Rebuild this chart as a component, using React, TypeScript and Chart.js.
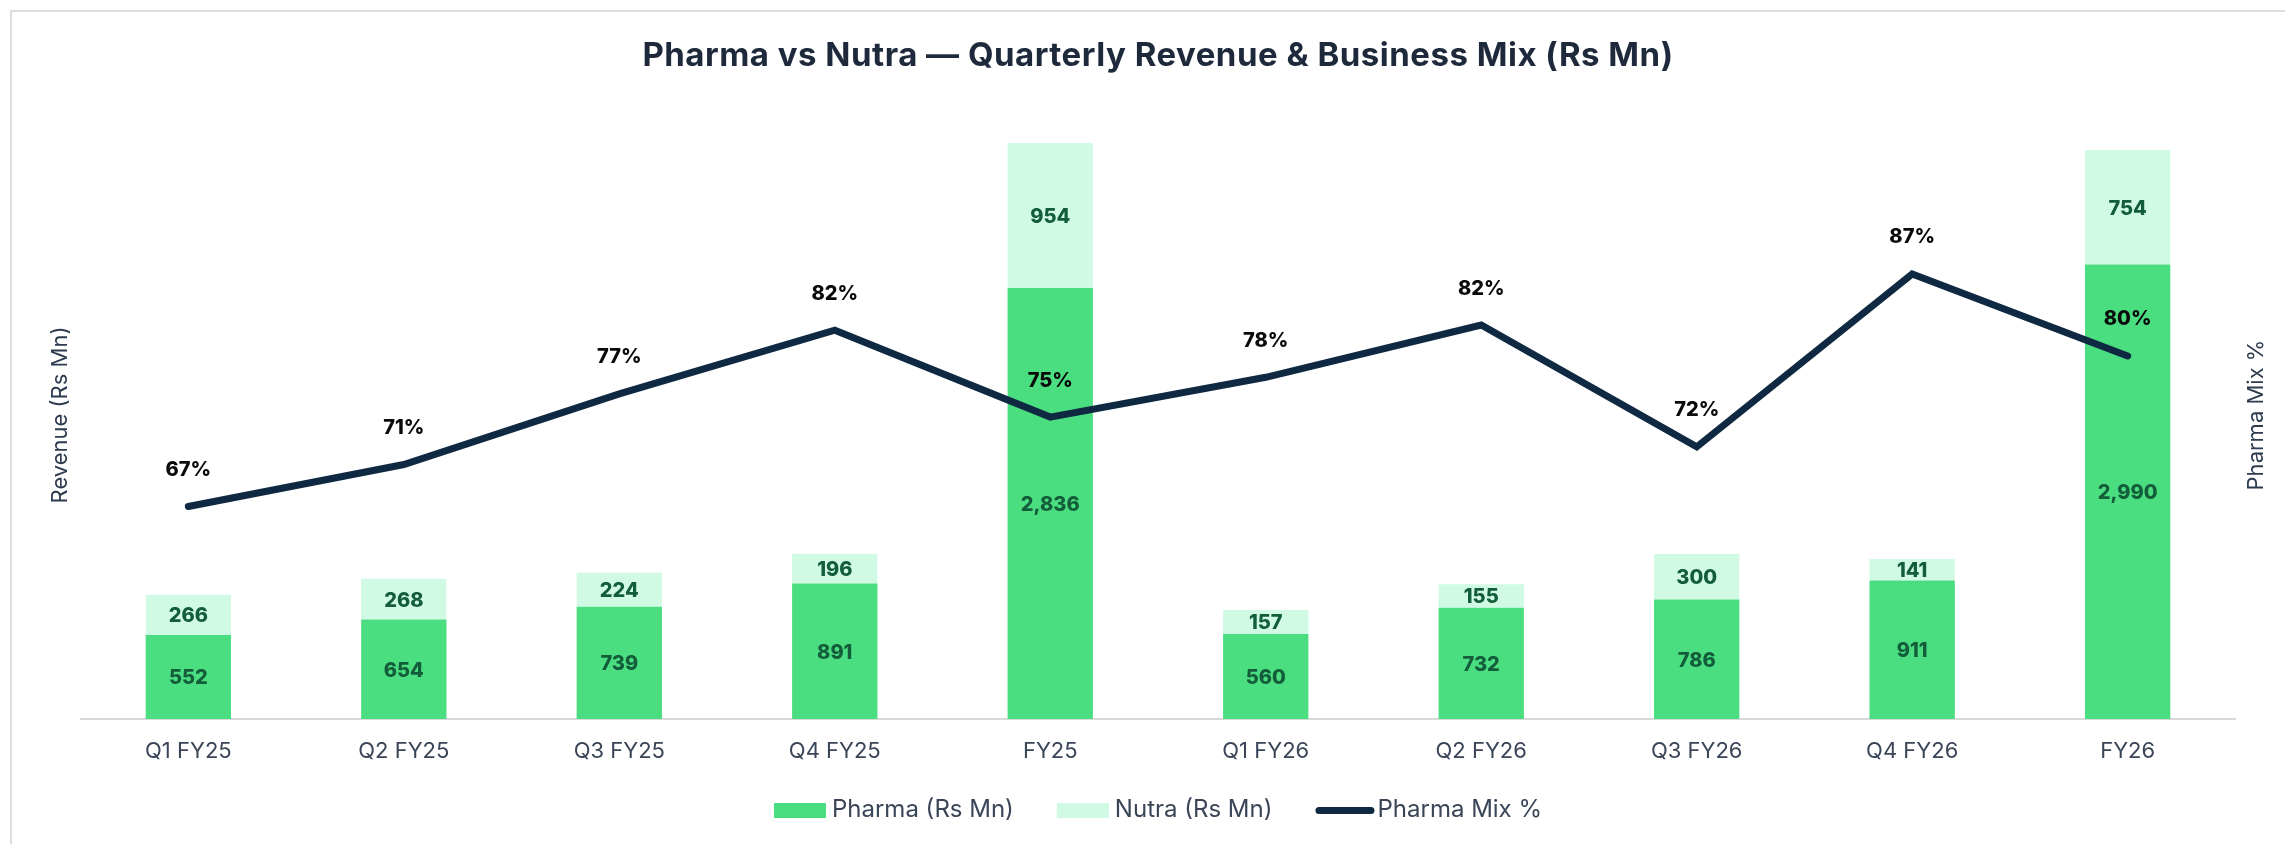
import React, { useEffect, useRef } from 'react';
import { Chart, registerables } from 'chart.js';

Chart.register(...registerables);

// ---------- data ----------
const categories = ['Q1 FY25', 'Q2 FY25', 'Q3 FY25', 'Q4 FY25', 'FY25', 'Q1 FY26', 'Q2 FY26', 'Q3 FY26', 'Q4 FY26', 'FY26'];
const pharmaRevenue = [552, 654, 739, 891, 2836, 560, 732, 786, 911, 2990];
const nutraRevenue = [266, 268, 224, 196, 954, 157, 155, 300, 141, 754];
const pharmaMixPct = [67.48, 70.93, 76.74, 81.97, 74.83, 78.1, 82.4, 72.38, 86.6, 79.86];
const revenueRange = [0, 4000];
const mixRange = [50, 100];

const TITLE = 'Pharma vs Nutra \u2014 Quarterly Revenue & Business Mix (Rs Mn)';
const LEGEND_LABELS = ['Pharma (Rs Mn)', 'Nutra (Rs Mn)', 'Pharma Mix %'];

// ---------- style ----------
const FONT = 'Inter';
const PHARMA_COLOR = '#4ade80';
const NUTRA_COLOR = '#d1fae5';
const LINE_COLOR = '#0f2942';
const BAR_LABEL_COLOR = '#135d3b';
const PCT_LABEL_COLOR = '#0a0a0a';
const TITLE_COLOR = '#1e2a3b';
const TEXT_COLOR = '#3a4557';
const AXIS_TITLE_COLOR = '#2d3b4e';

const decorPlugin = {
  id: 'decor',
  afterDatasetsDraw(chart: any) {
    const ctx = chart.ctx as CanvasRenderingContext2D;
    ctx.save();
    ctx.textAlign = 'center';
    ctx.textBaseline = 'alphabetic';
    ctx.font = `800 20px ${FONT}`;
    ctx.fillStyle = BAR_LABEL_COLOR;
    [0, 1].forEach((di) => {
      const meta = chart.getDatasetMeta(di);
      const values = chart.data.datasets[di].data as number[];
      meta.data.forEach((el: any, i: number) => {
        const { x, y, base } = el.getProps(['x', 'y', 'base'], true);
        ctx.fillText(values[i].toLocaleString('en-US'), x, (y + base) / 2 + 7.3);
      });
    });
    const lineMeta = chart.getDatasetMeta(2);
    const mix = chart.data.datasets[2].data as number[];
    ctx.fillStyle = PCT_LABEL_COLOR;
    lineMeta.data.forEach((el: any, i: number) => {
      ctx.fillText(Math.round(mix[i]) + '%', el.x, el.y - 30.5);
    });
    ctx.restore();
  },
  afterDraw(chart: any) {
    const ctx = chart.ctx as CanvasRenderingContext2D;
    const area = chart.chartArea;
    const cx = (area.left + area.right) / 2;
    const cy = (area.top + area.bottom) / 2;
    ctx.save();
    // title
    ctx.textAlign = 'center';
    ctx.textBaseline = 'alphabetic';
    ctx.fillStyle = TITLE_COLOR;
    ctx.font = `bold 33px ${FONT}`;
    (ctx as any).letterSpacing = '0.5px';
    ctx.fillText(TITLE, cx, 66);
    (ctx as any).letterSpacing = '0px';

    // axis titles
    ctx.font = `22px ${FONT}`;
    ctx.fillStyle = AXIS_TITLE_COLOR;
    ctx.save();
    ctx.translate(67, cy);
    ctx.rotate(-Math.PI / 2);
    ctx.fillText('Revenue (Rs Mn)', 0, 0);
    ctx.restore();
    ctx.save();
    ctx.translate(2263, cy);
    ctx.rotate(-Math.PI / 2);
    ctx.fillText('Pharma Mix %', 0, 0);
    ctx.restore();

    // legend
    ctx.font = `24px ${FONT}`;
    ctx.textAlign = 'left';
    const BOX_W = 52;
    const BOX_H = 15;
    const LINE_W = 59;
    const ITEM_GAP = 43;
    const symW = [BOX_W, BOX_W, LINE_W];
    const gaps = [6, 6, 3];
    const widths = LEGEND_LABELS.map((t, i) => symW[i] + gaps[i] + ctx.measureText(t).width);
    const total = widths.reduce((a, b) => a + b, 0) + ITEM_GAP * 2;
    let x = cx - total / 2;
    const yc = 810.5;
    LEGEND_LABELS.forEach((t, i) => {
      if (i < 2) {
        ctx.fillStyle = i === 0 ? PHARMA_COLOR : NUTRA_COLOR;
        ctx.fillRect(x, yc - BOX_H / 2, BOX_W, BOX_H);
      } else {
        ctx.strokeStyle = LINE_COLOR;
        ctx.lineWidth = 7;
        ctx.lineCap = 'round';
        ctx.beginPath();
        ctx.moveTo(x + 3.5, yc);
        ctx.lineTo(x + LINE_W - 3.5, yc);
        ctx.stroke();
      }
      ctx.fillStyle = TEXT_COLOR;
      ctx.fillText(t, x + symW[i] + gaps[i], 817);
      x += widths[i] + ITEM_GAP;
    });
    ctx.restore();
  },
};

export default function App() {
  const ref = useRef<HTMLCanvasElement | null>(null);
  useEffect(() => {
    if (!ref.current) return;
    const chart = new Chart(ref.current, {
      type: 'bar',
      data: {
        labels: categories,
        datasets: [
          {
            type: 'bar',
            label: LEGEND_LABELS[0],
            data: pharmaRevenue,
            backgroundColor: PHARMA_COLOR,
            yAxisID: 'y',
            order: 1,
            barPercentage: 0.396,
            categoryPercentage: 1,
          },
          {
            type: 'bar',
            label: LEGEND_LABELS[1],
            data: nutraRevenue,
            backgroundColor: NUTRA_COLOR,
            yAxisID: 'y',
            order: 1,
            barPercentage: 0.396,
            categoryPercentage: 1,
          },
          {
            type: 'line',
            label: LEGEND_LABELS[2],
            data: pharmaMixPct,
            borderColor: LINE_COLOR,
            backgroundColor: LINE_COLOR,
            borderWidth: 7,
            borderCapStyle: 'round',
            borderJoinStyle: 'miter',
            pointRadius: 0,
            pointHoverRadius: 0,
            tension: 0,
            yAxisID: 'y2',
            order: 0,
          } as any,
        ],
      },
      options: {
        responsive: false,
        animation: false,
        devicePixelRatio: 1,
        layout: { padding: { left: 80.6, right: 49.6, top: 111, bottom: 60.6 } },
        plugins: {
          legend: { display: false },
          title: { display: false },
          tooltip: { enabled: false },
        },
        scales: {
          x: {
            stacked: true,
            grid: { display: false, drawTicks: false, tickLength: 0 },
            border: { display: true, color: '#d9d9d9', width: 2 },
            ticks: {
              color: TEXT_COLOR,
              font: { family: FONT, size: 22 },
              padding: 19,
              maxRotation: 0,
              autoSkip: false,
            },
          },
          y: {
            display: false,
            stacked: true,
            min: revenueRange[0],
            max: revenueRange[1],
          },
          y2: {
            display: false,
            position: 'right',
            min: mixRange[0],
            max: mixRange[1],
            grid: { display: false },
          },
        },
      },
      plugins: [decorPlugin],
    });
    return () => chart.destroy();
  }, []);

  return (
    <div style={{ position: 'fixed', inset: 0, overflow: 'hidden', background: '#ffffff' }}>
      <div
        style={{
          position: 'absolute',
          left: 10,
          top: 10,
          width: 2400,
          height: 900,
          border: '2px solid #dcdcdc',
          boxSizing: 'border-box',
        }}
      />
      <canvas
        ref={ref}
        width={2285}
        height={844}
        style={{ position: 'absolute', left: 0, top: 0, width: 2285, height: 844 }}
      />
    </div>
  );
}
